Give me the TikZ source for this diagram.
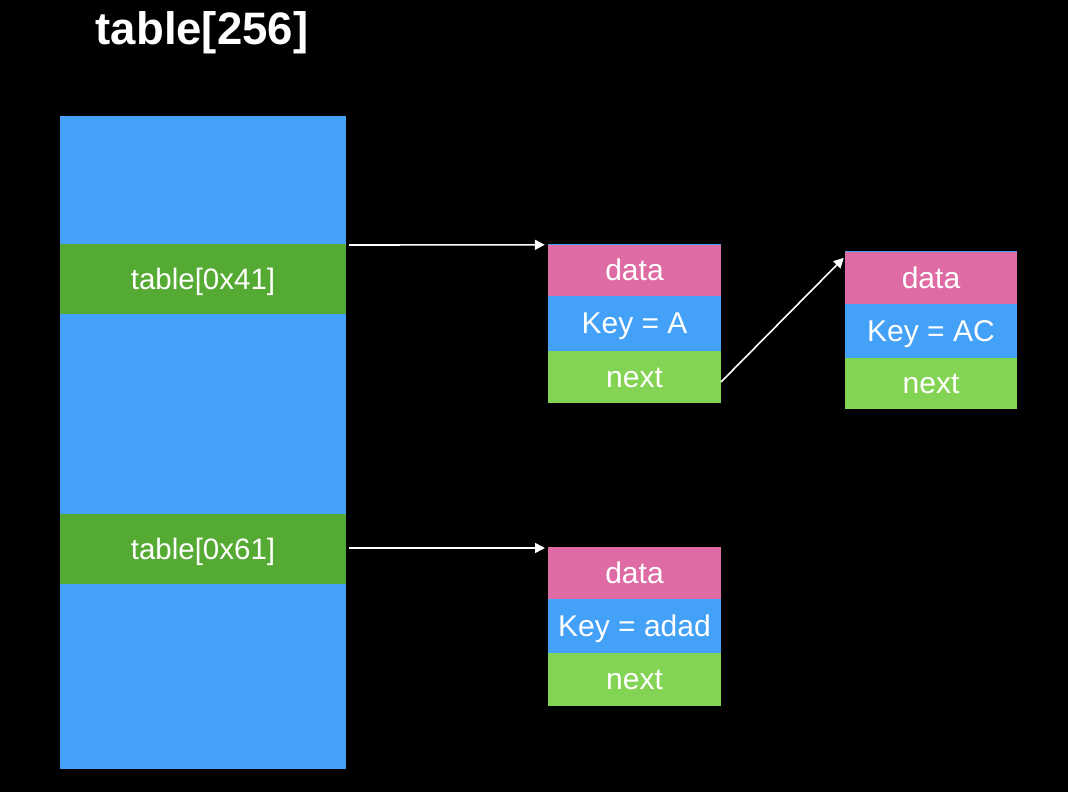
\documentclass[tikz,border=0pt]{standalone}
\usepackage{fontspec}
\setmainfont{Liberation Sans}
\usetikzlibrary{arrows.meta,calc}
\definecolor{tblue}{RGB}{68,161,248}
\definecolor{tgreen}{RGB}{85,170,51}
\definecolor{tpink}{RGB}{222,107,164}
\definecolor{tlgreen}{RGB}{131,212,84}
\begin{document}
\begin{tikzpicture}[x=1pt,y=-1pt,
  cell/.style={rectangle,inner sep=0pt,outer sep=0pt,text=white,minimum width=173pt,
    font=\fontsize{30}{34}\selectfont,text height=21.6pt,text depth=1pt},
  datacell/.style={cell,fill=tpink},
  keycell/.style={cell,fill=tblue},
  nextcell/.style={cell,fill=tlgreen},
  slot/.style={rectangle,inner sep=0pt,outer sep=0pt,fill=tgreen,text=white,
    minimum width=286pt,minimum height=70pt,font=\fontsize{29.5}{34}\selectfont,
    text height=21.6pt,text depth=1pt},
  link/.style={draw=white,line width=1.6pt,-{Triangle[length=10pt,width=10pt]}}]
\fill[black] (0,0) rectangle (1068,792);
\useasboundingbox (0,0) rectangle (1068,792);

\node[text=white,font=\bfseries\fontsize{45.5}{50}\selectfont] (title) at (202,33) {table[256]};

\node[rectangle,fill=tblue,inner sep=0pt,minimum width=286pt,minimum height=653pt] (tbl) at (203,442.5) {};
\node[slot] (r41) at (203,279) {table[0x41]};
\node[slot] (r61) at (203,549) {table[0x61]};

% node A
\node[rectangle,fill=tblue,inner sep=0pt,minimum width=173pt,minimum height=159pt] (backA) at (634.5,323.5) {};
\node[datacell,minimum height=51.5pt] (data1) at (634.5,270.5) {data};
\node[keycell,minimum height=55pt] (key1) at (634.5,323.5) {Key = A};
\node[nextcell,minimum height=52pt] (next1) at (634.5,377) {next};

% node AC
\node[rectangle,fill=tblue,inner sep=0pt,minimum width=172pt,minimum height=158pt] (backB) at (931,330) {};
\node[datacell,minimum width=172pt,minimum height=52pt] (data2) at (931,278) {data};
\node[keycell,minimum width=172pt,minimum height=54pt] (key2) at (931,331) {Key = AC};
\node[nextcell,minimum width=172pt,minimum height=51pt] (next2) at (931,383.5) {next};

% node adad
\node[datacell,minimum height=52pt] (data3) at (634.5,573) {data};
\node[keycell,minimum height=54pt] (key3) at (634.5,626) {Key = adad};
\node[nextcell,minimum height=53pt] (next3) at (634.5,679.5) {next};

\draw[link] ($(r41.north east)+(3,1)$) -- ($(backA.north west)+(-3,1)$);
\draw[link] ($(r61.east)+(3,-1)$) -- ($(data3.west |- r61.east)+(-3,-1)$);
\draw[link] ($(next1.east)+(0,5)$) -- ($(backB.north west)+(-1,7)$);
\end{tikzpicture}
\end{document}
